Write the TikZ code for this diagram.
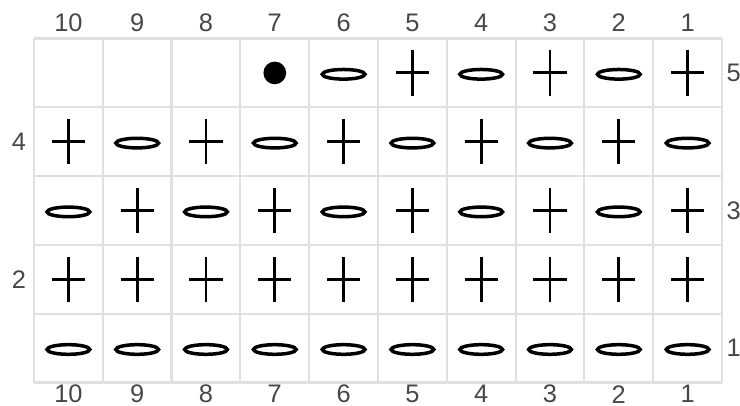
\documentclass[tikz,border=0pt]{standalone}
\usepackage{fontspec}
\setmainfont{Liberation Sans}

\begin{document}
\begin{tikzpicture}[
    cellline/.style={draw=black!12, line width=0.9pt},
    numlabel/.style={font=\fontsize{10.5}{12}\selectfont, text=black!72, inner sep=0pt},
    stitch/.style={draw=black, line width=1.2pt},
    sc/.pic={\draw[stitch] (-0.24,0) -- (0.24,0) (0,-0.33) -- (0,0.33);},
    ch/.pic={\draw[stitch, line width=1.45pt] (0,-0.02) ellipse [x radius=0.31, y radius=0.07];},
    slst/.pic={\fill[black] (0,0) circle [radius=0.165];}
]
    \useasboundingbox (-0.494,-0.334) rectangle (10.262,5.56);

    % chart grid
    \draw[cellline] (0,0) grid (10,5);

    % stitch numbers and row numbers
    \foreach \c in {1,...,10} {
        \node[numlabel] (top\c) at (10.5-\c,5.225) {\c};
        \node[numlabel] (bot\c) at (10.5-\c,-0.17) {\c};
    }
    \foreach \r in {1,3,5} \node[numlabel] (row\r) at (10.17,\r-0.5) {\r};
    \foreach \r in {2,4} \node[numlabel] (row\r) at (-0.22,\r-0.5) {\r};

    % row 1
    \foreach \c in {1,...,10} \pic at (10.5-\c,0.5) {ch};
    % row 2
    \foreach \c in {1,...,10} \pic at (10.5-\c,1.5) {sc};
    % row 3
    \foreach \c in {1,3,...,9} \pic at (10.5-\c,2.5) {sc};
    \foreach \c in {2,4,...,10} \pic at (10.5-\c,2.5) {ch};
    % row 4
    \foreach \c in {2,4,...,10} \pic at (10.5-\c,3.5) {sc};
    \foreach \c in {1,3,...,9} \pic at (10.5-\c,3.5) {ch};
    % row 5
    \foreach \c in {1,3,5} \pic at (10.5-\c,4.5) {sc};
    \foreach \c in {2,4,6} \pic at (10.5-\c,4.5) {ch};
    \pic at (3.5,4.5) {slst};
\end{tikzpicture}
\end{document}
